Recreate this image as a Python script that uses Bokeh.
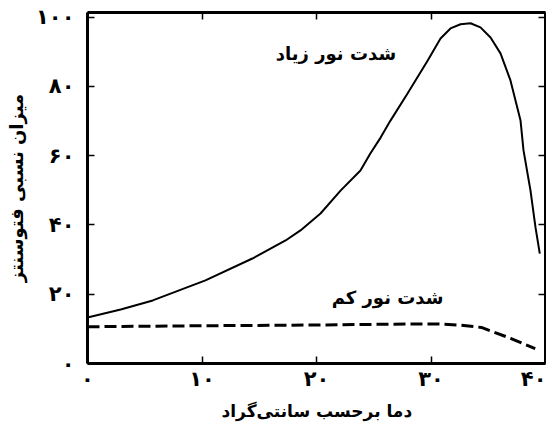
from bokeh.plotting import figure
from bokeh.models import LinearAxis, Range1d, FixedTicker, Label, Title
from bokeh.embed import file_html
from bokeh.resources import INLINE

# Data
temp_high = [0, 2.9, 5.7, 10.3, 14.4, 17.3, 18.6, 20.35, 22.1, 23.84, 24.7, 25.6, 26.46, 27.95,
             29.7, 30.83, 31.7, 32.58, 33.45, 34.32, 35.2, 36.07, 36.94, 37.38, 37.82, 38.08,
             38.69, 39.13, 39.5]
photo_high = [13.3, 15.6, 18.2, 24.0, 30.3, 35.5, 38.4, 43.3, 49.9, 55.7, 60.6, 65.2, 70.1, 77.9,
              87.4, 93.8, 96.7, 97.9, 98.2, 97.0, 94.1, 89.5, 81.7, 75.9, 70.1, 61.5,
              49.9, 39.2, 31.7]

temp_low = [0, 10, 20, 28, 30.6, 32.5, 34.4, 37.0, 39.1]
photo_low = [10.6, 10.9, 11.1, 11.4, 11.4, 11.1, 10.4, 7.2, 4.3]

x_ticks = [0, 10, 20, 30, 40]
x_tick_labels = ["۰", "۱۰", "۲۰", "۳۰", "۴۰"]
y_ticks = [0, 20, 40, 60, 80, 100]
y_tick_labels = ["۰", "۲۰", "۴۰", "۶۰", "۸۰", "۱۰۰"]

x_title = "دما برحسب سانتی‌گراد"
y_title = "میزان نسبی فتوسنتز"
label_high = "شدت نور زیاد"
label_low = "شدت نور کم"

FONT = "DejaVu Sans"

p = figure(width=546, height=430, x_range=Range1d(0, 40), y_range=Range1d(0, 101.3),
           output_backend="svg", toolbar_location=None,
           min_border_left=87, min_border_right=1, min_border_top=12, min_border_bottom=67)
p.xgrid.visible = False
p.ygrid.visible = False
p.outline_line_color = None
p.background_fill_color = "white"
p.border_fill_color = "white"

def style_axis(ax, ticks, labels, show_labels=True):
    ax.ticker = FixedTicker(ticks=ticks)
    ax.major_tick_in = 7
    ax.major_tick_out = 0
    ax.minor_tick_line_color = None
    ax.major_tick_line_width = 1.5
    ax.major_tick_line_color = "black"
    ax.axis_line_width = 3
    ax.axis_line_color = "black"
    ax.major_label_text_font = FONT
    ax.major_label_text_font_style = "bold"
    ax.major_label_text_color = "black"
    if show_labels:
        ax.major_label_overrides = {t: l for t, l in zip(ticks, labels)}
        ax.major_label_text_font_size = "21px"
    else:
        ax.major_label_overrides = {t: "" for t in ticks}
        ax.major_label_text_font_size = "1px"
        ax.major_label_standoff = 0

style_axis(p.xaxis[0], x_ticks, x_tick_labels)
style_axis(p.yaxis[0], y_ticks, y_tick_labels)
p.xaxis.major_label_standoff = 3
p.yaxis.major_label_standoff = 13

p.yaxis.axis_label = y_title
p.yaxis.axis_label_text_font_size = "18px"
p.yaxis.axis_label_text_font = FONT
p.yaxis.axis_label_text_font_style = "bold"
p.yaxis.axis_label_text_color = "black"
p.yaxis.axis_label_standoff = 6

top = LinearAxis()
style_axis(top, x_ticks, x_tick_labels, show_labels=False)
p.add_layout(top, "above")
right = LinearAxis()
style_axis(right, y_ticks, y_tick_labels, show_labels=False)
p.add_layout(right, "right")

# x-axis title, as a title panel below the axis
p.add_layout(Title(text=x_title, align="left", offset=134, standoff=10,
                   text_font=FONT, text_font_style="bold", text_font_size="17px",
                   text_color="black"), "below")

p.line(temp_high, photo_high, line_color="black", line_width=2, line_join="round")
p.line(temp_low, photo_low, line_color="black", line_width=3, line_dash="12 5")

p.add_layout(Label(x=21.7, y=89.5, text=label_high, text_align="center", text_baseline="middle",
                   text_font=FONT, text_font_style="bold", text_font_size="18px", text_color="black"))
p.add_layout(Label(x=26.2, y=19.0, text=label_low, text_align="center", text_baseline="middle",
                   text_font=FONT, text_font_style="bold", text_font_size="18px", text_color="black"))

open("out.html", "w").write(file_html(p, INLINE))
